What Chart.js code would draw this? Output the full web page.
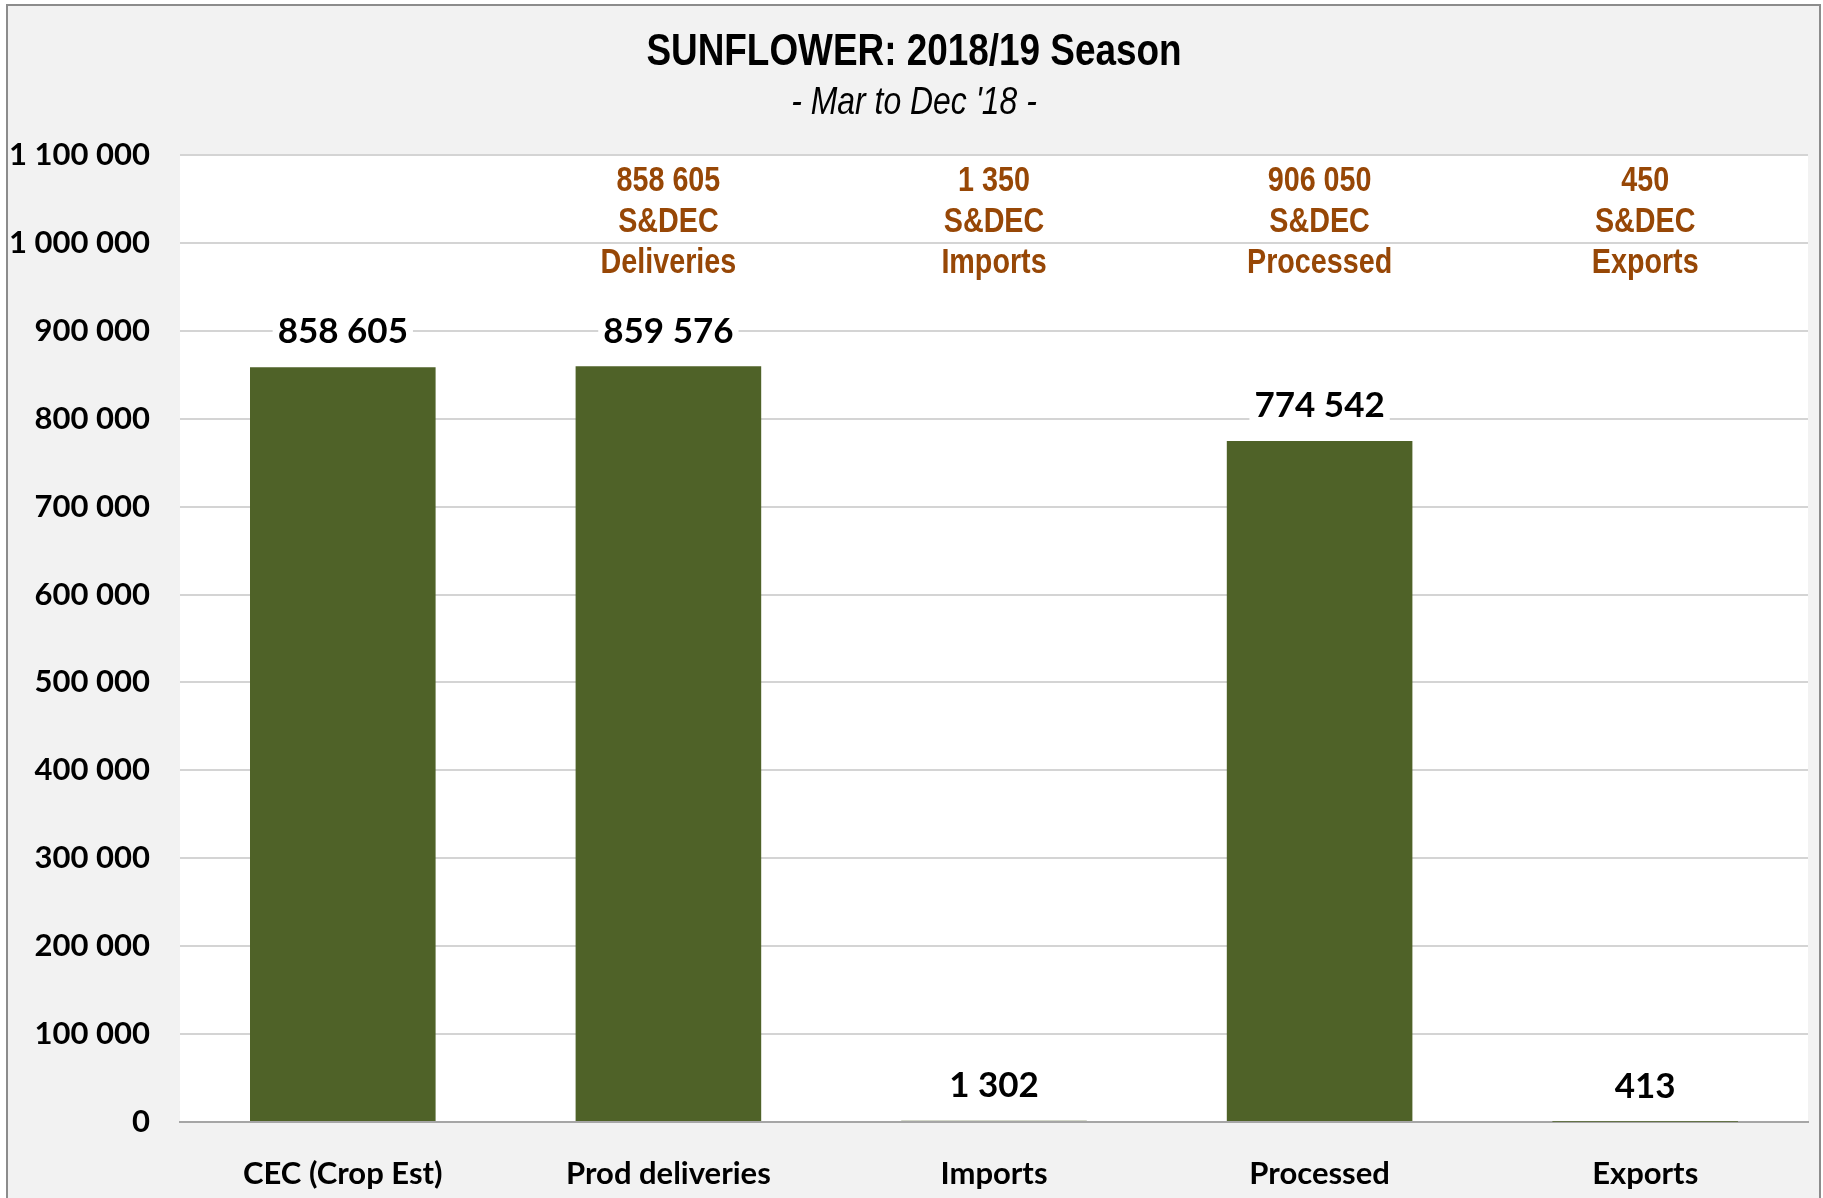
<!DOCTYPE html>
<html>
<head>
<meta charset="utf-8">
<script src="https://cdn.jsdelivr.net/npm/chart.js@4.4.0/dist/chart.umd.min.js"></script>
<style>
  html, body { margin: 0; padding: 0; background: #fff; }
  #wrap { width: 1823px; height: 1198px; }
</style>
</head>
<body>
<div id="wrap"><canvas id="chartSunflower" width="1823" height="1198"></canvas></div>
<script>
// data (tons)
const categories = ['CEC (Crop Est)', 'Prod deliveries', 'Imports', 'Processed', 'Exports'];
const tonnes = [858605, 859576, 1302, 774542, 413];
// S&DEC figures shown in the orange text boxes
const sdecValues = [null, 858605, 1350, 906050, 450];
const sdecNames = ['', 'Deliveries', 'Imports', 'Processed', 'Exports'];
const yMax = 1100000;
const yStep = 100000;

const chartCanvas = document.getElementById('chartSunflower');

// numbers with a space as thousands separator
function fmt(v){
  return String(v).replace(/\B(?=(\d{3})+(?!\d))/g, ' ');
}

// no Arial Narrow here, so squeeze Liberation Sans sideways
function narrowText(ctx, txt, x, y, sx){
  ctx.save();
  ctx.translate(x, y);
  ctx.scale(sx, 1);
  ctx.fillText(txt, 0, 0);
  ctx.restore();
}

const SANS = '"Liberation Sans", Arial, sans-serif';
const LABEL_FONT = 'bold 35px Lato, "Open Sans", sans-serif';

// grey frame + white plot area
const backgroundPlugin = {
  id: 'background',
  beforeDraw(chart){
    const ctx = chart.ctx;
    const a = chart.chartArea;
    ctx.save();
    ctx.fillStyle = '#ffffff';
    ctx.fillRect(0, 0, chart.width, chart.height);
    ctx.fillStyle = '#f2f2f2';
    ctx.fillRect(7, 5, 1813, 1200);
    ctx.strokeStyle = '#8c8c8c';
    ctx.lineWidth = 2;
    ctx.strokeRect(7, 5, 1813, 1200);
    ctx.fillStyle = '#ffffff';
    ctx.fillRect(a.left, a.top, a.right - a.left, a.bottom - a.top);
    ctx.restore();
  }
};

// title, value labels and the S&DEC text boxes
const textPlugin = {
  id: 'texts',
  afterDatasetsDraw(chart){
    const ctx = chart.ctx;
    const meta = chart.getDatasetMeta(0);
    ctx.save();
    ctx.font = LABEL_FONT;
    ctx.textAlign = 'center';
    ctx.textBaseline = 'middle';
    meta.data.forEach((bar, i) => {
      const txt = fmt(tonnes[i]);
      const w = ctx.measureText(txt).width;
      const y = bar.y - 36;
      ctx.fillStyle = '#ffffff';
      ctx.fillRect(bar.x - w/2 - 5, y - 18, w + 10, 36);
      ctx.fillStyle = '#000000';
      ctx.fillText(txt, bar.x, y + 1);
    });
    ctx.restore();
  },
  afterDraw(chart){
    const ctx = chart.ctx;
    const xs = chart.scales.x;
    const top = chart.chartArea.top;
    ctx.save();
    ctx.textAlign = 'center';
    ctx.textBaseline = 'middle';

    ctx.fillStyle = '#000000';
    ctx.font = 'bold 45px ' + SANS;
    narrowText(ctx, 'SUNFLOWER: 2018/19 Season', 914, 53, 0.82);
    ctx.font = 'italic 38px ' + SANS;
    narrowText(ctx, "- Mar to Dec '18 -", 914, 103, 0.84);

    ctx.fillStyle = '#974706';
    ctx.font = 'bold 35px ' + SANS;
    sdecValues.forEach((v, i) => {
      if(v === null) return;
      const x = xs.getPixelForValue(i);
      const lines = [fmt(v), 'S&DEC', sdecNames[i]];
      lines.forEach((t, k) => {
        narrowText(ctx, t, x, top + 26 + k * 41, 0.82);
      });
    });
    ctx.restore();
  }
};

new Chart(chartCanvas.getContext('2d'), {
  type: 'bar',
  data: {
    labels: categories,
    datasets: [{
      data: tonnes,
      backgroundColor: '#4f6228',
      borderWidth: 0,
      barPercentage: 0.57,
      categoryPercentage: 1
    }]
  },
  options: {
    responsive: false,
    animation: false,
    layout: { padding: { top: 155, right: 15, left: 0, bottom: 0 } },
    plugins: {
      legend: { display: false },
      tooltip: { enabled: false },
      title: { display: false }
    },
    scales: {
      x: {
        grid: { display: false },
        border: { color: '#a6a6a6', width: 2 },
        ticks: {
          color: '#000000',
          font: { family: 'Lato', size: 31, weight: 'bold' },
          padding: 25
        },
        afterFit(scale){ scale.height = 76; }
      },
      y: {
        min: 0,
        max: yMax,
        border: { display: false },
        grid: {
          drawTicks: false,
          lineWidth: 2,
          color: c => (c.tick && c.tick.value === 0) ? '#a6a6a6' : '#d4d4d4'
        },
        ticks: {
          stepSize: yStep,
          color: '#000000',
          font: { family: 'Lato', size: 31, weight: 'bold' },
          padding: 30,
          callback: v => fmt(v)
        },
        afterFit(scale){ scale.width = 180; }
      }
    }
  },
  plugins: [backgroundPlugin, textPlugin]
});
</script>
</body>
</html>
